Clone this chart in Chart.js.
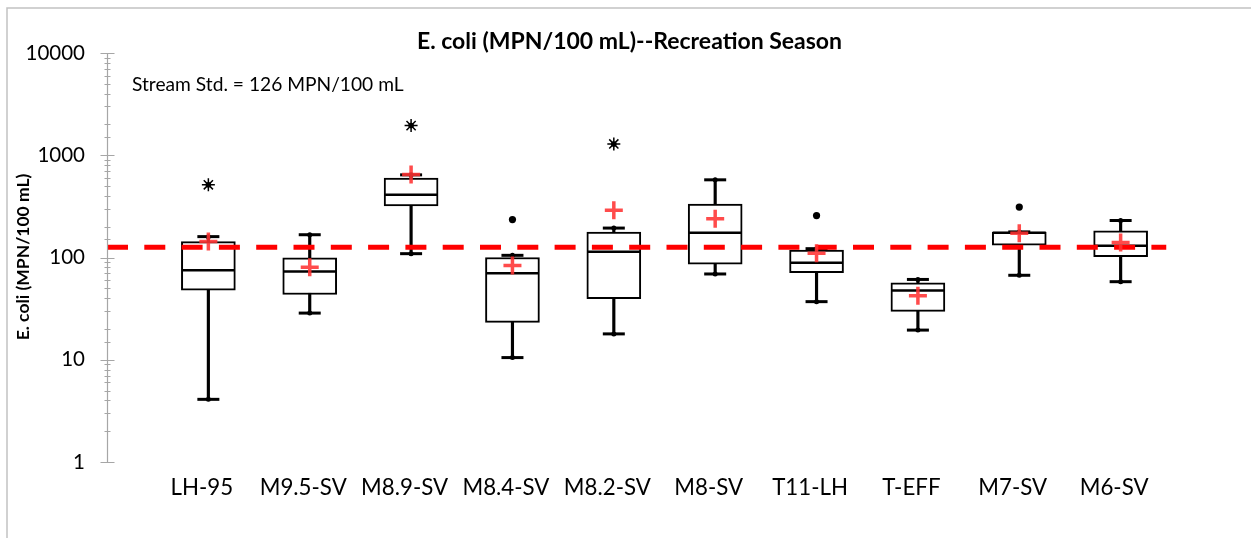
<!DOCTYPE html>
<html>
<head>
<meta charset="utf-8">
<title>E. coli (MPN/100 mL)--Recreation Season</title>
<script src="https://cdn.jsdelivr.net/npm/chart.js@4.4.1/dist/chart.umd.min.js"></script>
<style>
  html, body { margin: 0; padding: 0; background: #ffffff; }
  #wrap { position: relative; width: 1251px; height: 538px; }
  canvas { display: block; }
</style>
</head>
<body>
<div id="wrap"><canvas id="chart" width="1251" height="538"></canvas></div>
<script>
// Sampling sites along the x axis
const sites = ['LH-95', 'M9.5-SV', 'M8.9-SV', 'M8.4-SV', 'M8.2-SV', 'M8-SV', 'T11-LH', 'T-EFF', 'M7-SV', 'M6-SV'];

// Box-plot summary per site (MPN/100 mL)
const minVals    = [4.1, 28.6, 109, 10.5, 17.9, 69, 37, 19.5, 67, 58];
const q1Vals     = [48, 43.5, 320, 23.2, 39.5, 86, 71, 29.7, 132, 102];
const medianVals = [75, 73, 410, 70, 114, 175, 89, 47.6, 175, 130];
const q3Vals     = [143, 99, 597, 100, 177, 333, 118, 56.6, 177, 182];
const maxVals    = [160, 167, 643, 105, 194, 575, 122, 61, 178, 230];
const meanVals   = [143, 80.5, 650, 83.5, 290, 239, 110, 42.2, 173, 140];

// Outliers: extreme (asterisk) and mild (dot)
const extremeSites = ['LH-95', 'M8.9-SV', 'M8.2-SV'];
const extremeVals  = [514, 1950, 1290];
const mildSites    = ['M8.4-SV', 'T11-LH', 'M7-SV'];
const mildVals     = [235, 257, 311];

// Recreation-season stream standard
const streamStd = 126;

// Labelled decades on the log axis
const yTickLabels = [1, 10, 100, 1000, 10000];

const pos = s => sites.indexOf(s) + 1;
const pts = vals => vals.map((v, i) => ({ x: i + 1, y: v }));
const FONT = 'Lato, "Open Sans", sans-serif';
const isDecade = v => Math.abs(Math.log10(v) - Math.round(Math.log10(v))) < 1e-9;

// Frame, log-axis line with cross tick marks, and text
const decor = {
  id: 'decor',
  beforeDraw(chart) {
    const ctx = chart.ctx;
    ctx.save();
    ctx.fillStyle = '#ffffff';
    ctx.fillRect(0, 0, chart.width, chart.height);
    ctx.strokeStyle = '#c2c2c2';
    ctx.lineWidth = 1.5;
    ctx.strokeRect(7, 8, chart.width + 40, chart.height + 40);
    ctx.restore();
  },
  afterDraw(chart) {
    const ctx = chart.ctx;
    const y = chart.scales.y;
    const ax = Math.round(chart.chartArea.left) + 0.5;
    ctx.save();
    ctx.strokeStyle = '#a6a6a6';
    ctx.lineWidth = 1.2;
    ctx.beginPath();
    ctx.moveTo(ax, y.getPixelForValue(10000));
    ctx.lineTo(ax, y.getPixelForValue(1));
    y.ticks.forEach(t => {
      const py = Math.round(y.getPixelForValue(t.value)) + 0.5;
      const half = isDecade(t.value) ? 7 : 3;
      ctx.moveTo(ax - half, py);
      ctx.lineTo(ax + half, py);
    });
    ctx.stroke();

    ctx.fillStyle = '#000000';
    ctx.textBaseline = 'middle';
    ctx.textAlign = 'center';
    ctx.font = 'bold 23px ' + FONT;
    ctx.fillText('E. coli (MPN/100 mL)--Recreation Season', 629.5, 42);

    ctx.textAlign = 'left';
    ctx.font = '19.2px ' + FONT;
    ctx.fillText('Stream Std. = ' + streamStd + ' MPN/100 mL', 132, 85);

    ctx.translate(23, 257);
    ctx.rotate(-Math.PI / 2);
    ctx.textAlign = 'center';
    ctx.font = 'bold 17.5px ' + FONT;
    ctx.fillText('E. coli (MPN/100 mL)', 0, 0);
    ctx.restore();
  }
};

new Chart(document.getElementById('chart'), {
  type: 'bar',
  data: {
    datasets: [
      { // whisker stems
        type: 'bar', order: 10, grouped: false,
        data: sites.map((s, i) => ({ x: i + 1, y: [minVals[i], maxVals[i]] })),
        barThickness: 2.5, backgroundColor: '#000000', borderWidth: 0
      },
      { // interquartile boxes
        type: 'bar', order: 9, grouped: false,
        data: sites.map((s, i) => ({ x: i + 1, y: [q1Vals[i], q3Vals[i]] })),
        barThickness: 54, backgroundColor: '#ffffff', borderColor: '#000000',
        borderWidth: 2, borderSkipped: false
      },
      { // medians
        type: 'scatter', order: 8, data: pts(medianVals),
        pointStyle: 'line', pointRadius: 26.5, borderColor: '#000000', borderWidth: 2.5
      },
      { // whisker caps
        type: 'scatter', order: 8, data: pts(minVals).concat(pts(maxVals)),
        pointStyle: 'line', pointRadius: 11, borderColor: '#000000', borderWidth: 3
      },
      { // whisker end dots
        type: 'scatter', order: 8, data: pts(minVals).concat(pts(maxVals)),
        pointStyle: 'circle', pointRadius: 2.5, backgroundColor: '#000000', borderWidth: 0
      },
      { // stream standard
        type: 'line', order: 5,
        data: [{ x: 0, y: streamStd }, { x: 10.45, y: streamStd }],
        borderColor: '#ff0000', borderWidth: 5, borderDash: [21, 16.3],
        pointRadius: 0, fill: false, borderCapStyle: 'butt'
      },
      { // means
        type: 'scatter', order: 2, data: pts(meanVals),
        pointStyle: 'cross', pointRadius: 9, borderColor: 'rgba(255,50,50,0.88)', borderWidth: 3.5
      },
      { // extreme outliers
        type: 'scatter', order: 1,
        data: extremeSites.map((s, i) => ({ x: pos(s), y: extremeVals[i] })),
        pointStyle: 'star', pointRadius: 6.5, borderColor: '#000000', borderWidth: 1.5
      },
      {
        type: 'scatter', order: 1,
        data: extremeSites.map((s, i) => ({ x: pos(s), y: extremeVals[i] })),
        pointStyle: 'circle', pointRadius: 2.8, backgroundColor: '#000000', borderWidth: 0
      },
      { // mild outliers
        type: 'scatter', order: 1,
        data: mildSites.map((s, i) => ({ x: pos(s), y: mildVals[i] })),
        pointStyle: 'circle', pointRadius: 3.6, backgroundColor: '#000000', borderWidth: 0
      }
    ]
  },
  options: {
    responsive: false,
    animation: false,
    events: [],
    layout: { padding: { top: 53, right: 21, bottom: 0, left: 0 } },
    plugins: { legend: { display: false }, tooltip: { enabled: false }, title: { display: false } },
    scales: {
      x: {
        type: 'linear', min: 0, max: 11, offset: false,
        grid: { display: false, drawTicks: false, offset: false },
        border: { display: false },
        afterFit: s => { s.height = 76; },
        ticks: {
          stepSize: 1, autoSkip: false, maxRotation: 0, padding: 12, labelOffset: -6.5,
          color: '#000000', font: { family: FONT, size: 22.3 },
          callback: v => sites[v - 1] || ''
        }
      },
      y: {
        type: 'logarithmic', min: 1, max: 10000,
        grid: { display: false, drawTicks: false },
        border: { display: false },
        afterFit: s => { s.width = 107; },
        ticks: {
          autoSkip: false, padding: 22, color: '#000000',
          font: { family: FONT, size: 20.5 },
          callback: v => (yTickLabels.some(t => Math.abs(t - v) < 1e-6) ? String(v) : '')
        }
      }
    }
  },
  plugins: [decor]
});
</script>
</body>
</html>
